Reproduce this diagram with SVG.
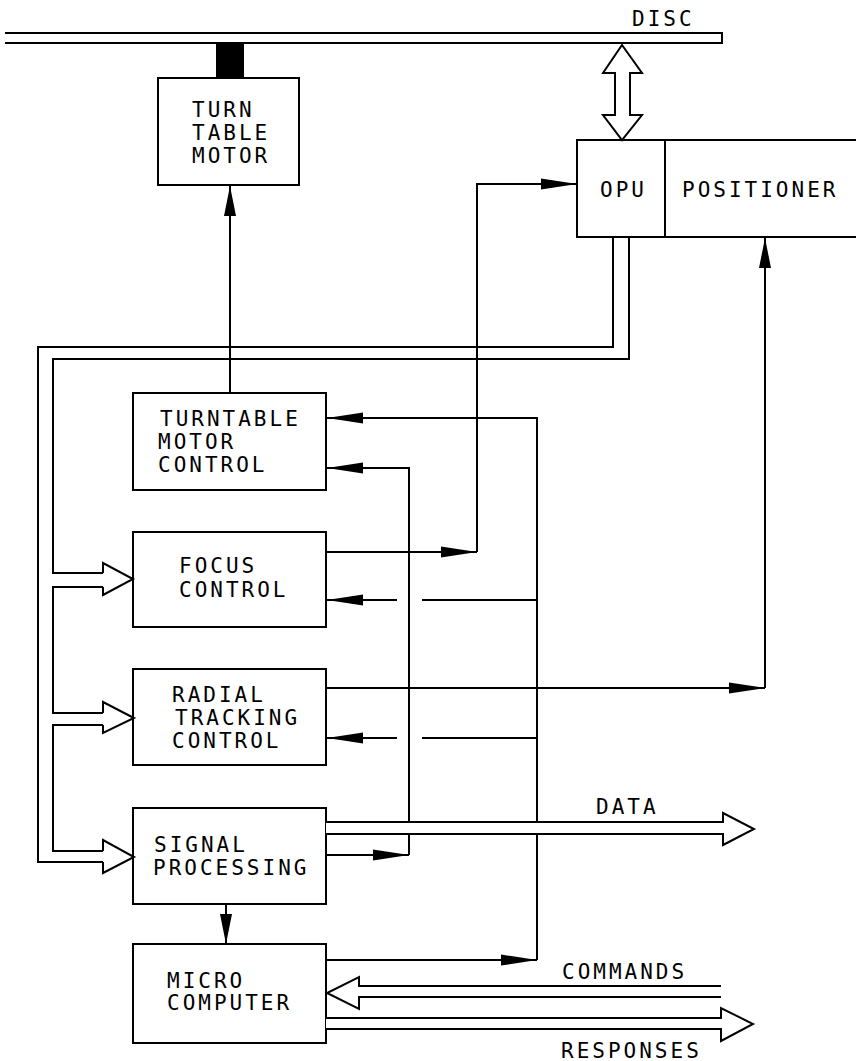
<svg xmlns="http://www.w3.org/2000/svg" width="856" height="1061" viewBox="0 0 856 1061">
<style>
.bx{fill:#fff;stroke:#000;stroke-width:2}
.ln{fill:none;stroke:#000;stroke-width:2}
.hol{fill:#fff;stroke:#000;stroke-width:2;stroke-linejoin:miter}
.t{font-family:"DejaVu Sans Mono","Liberation Mono",monospace;font-size:21px;letter-spacing:3px;fill:#000}
</style>
<defs>
<marker id="ah" markerUnits="userSpaceOnUse" viewBox="0 0 36 12" refX="36" refY="6" markerWidth="36" markerHeight="12" orient="auto">
<path d="M0,0.5 L36,6 L0,11.5 Z" fill="#000"/>
</marker>
<marker id="ahs" markerUnits="userSpaceOnUse" viewBox="0 0 30 12" refX="30" refY="6" markerWidth="30" markerHeight="12" orient="auto">
<path d="M0,0 L30,6 L0,12 Z" fill="#000"/>
</marker>
</defs>
<rect width="856" height="1061" fill="#fff"/>

<g id="disc">
<path class="ln" d="M5,33 H722 V43 H5"/>
<text class="t" x="632" y="26">DISC</text>
</g>

<g id="turntable-motor">
<rect x="216" y="43" width="28" height="35" fill="#000"/>
<rect class="bx" x="158" y="78" width="141" height="107"/>
<text class="t" x="192" y="117">TURN</text>
<text class="t" x="192" y="140">TABLE</text>
<text class="t" x="192" y="163">MOTOR</text>
</g>

<g id="opu-positioner">
<path class="bx" d="M858,140 H577 V237 H858"/>
<line class="ln" x1="665" y1="140" x2="665" y2="237"/>
<text class="t" x="600" y="197">OPU</text>
<text class="t" x="682" y="197">POSITIONER</text>
</g>

<g id="turntable-motor-control">
<rect class="bx" x="133" y="393" width="193" height="97"/>
<text class="t" x="160" y="426">TURNTABLE</text>
<text class="t" x="158" y="449">MOTOR</text>
<text class="t" x="158" y="472">CONTROL</text>
</g>

<g id="focus-control">
<rect class="bx" x="133" y="532" width="193" height="95"/>
<text class="t" x="179" y="573">FOCUS</text>
<text class="t" x="179" y="597">CONTROL</text>
</g>

<g id="radial-tracking-control">
<rect class="bx" x="133" y="669" width="193" height="96"/>
<text class="t" x="172" y="702">RADIAL</text>
<text class="t" x="175" y="725">TRACKING</text>
<text class="t" x="172" y="748">CONTROL</text>
</g>

<g id="signal-processing">
<rect class="bx" x="133" y="808" width="193" height="96"/>
<text class="t" x="154" y="852">SIGNAL</text>
<text class="t" x="153" y="875">PROCESSING</text>
</g>

<g id="micro-computer">
<rect class="bx" x="133" y="944" width="193" height="99"/>
<text class="t" x="167" y="988">MICRO</text>
<text class="t" x="167" y="1010">COMPUTER</text>
</g>

<g id="connectors">
<!-- disc <-> OPU hollow double arrow -->
<path class="hol" d="M622,45 L642,73 H630 V115 H642 L622,140 L603,115 H615 V73 H603 Z"/>
<!-- TMC -> turntable motor -->
<line class="ln" x1="230" y1="393" x2="230" y2="186" marker-end="url(#ahs)"/>
<!-- OPU output bus -->
<path class="ln" d="M613,237 V347 H38 V862 H103"/>
<path class="ln" d="M629,237 V359 H53 V573 H103"/>
<!-- bus taps -->
<path class="hol" d="M103,573 V563 L133,579 L103,595 V587"/>
<path class="ln" d="M103,587 H53 V713 H103"/>
<path class="hol" d="M103,713 V702 L134,718 L103,733 V725"/>
<path class="ln" d="M103,725 H53 V851 H103"/>
<path class="hol" d="M103,851 V840 L134,857 L103,873 V862"/>
<!-- focus output to OPU -->
<line class="ln" x1="326" y1="552" x2="477" y2="552" marker-end="url(#ah)"/>
<path class="ln" d="M477,552 V184 H577" marker-end="url(#ah)"/>
<!-- micro computer control line -->
<line class="ln" x1="326" y1="960" x2="537" y2="960" marker-end="url(#ah)"/>
<path class="ln" d="M537,960 V418 H327" marker-end="url(#ah)"/>
<!-- signal processing to TMC -->
<line class="ln" x1="326" y1="855" x2="409" y2="855" marker-end="url(#ah)"/>
<path class="ln" d="M409,855 V468 H327" marker-end="url(#ah)"/>
<!-- focus input -->
<line class="ln" x1="537" y1="600" x2="422" y2="600"/>
<line class="ln" x1="397" y1="600" x2="327" y2="600" marker-end="url(#ah)"/>
<!-- radial input -->
<line class="ln" x1="537" y1="738" x2="422" y2="738"/>
<line class="ln" x1="397" y1="738" x2="327" y2="738" marker-end="url(#ah)"/>
<!-- radial output to positioner -->
<line class="ln" x1="326" y1="688" x2="765" y2="688" marker-end="url(#ah)"/>
<line class="ln" x1="765" y1="688" x2="765" y2="238" marker-end="url(#ahs)"/>
<!-- SP -> MC -->
<line class="ln" x1="226" y1="904" x2="226" y2="944" marker-end="url(#ahs)"/>
<!-- DATA -->
<path class="hol" d="M326,822 H723 V813 L754,829 L723,845 V834 H326"/>
<text class="t" x="596" y="814">DATA</text>
<!-- COMMANDS -->
<path class="hol" d="M721,986 H359 V977 L327,993 L359,1009 V997 H721"/>
<text class="t" x="562" y="979">COMMANDS</text>
<!-- RESPONSES -->
<path class="hol" d="M326,1018 H721 V1008 L753,1024 L721,1041 V1029 H326"/>
<text class="t" x="561" y="1058">RESPONSES</text>
</g>
</svg>
